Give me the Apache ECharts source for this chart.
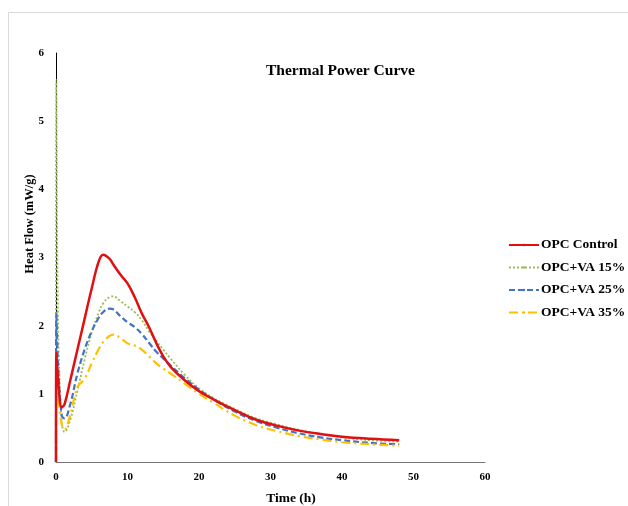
<!DOCTYPE html>
<html>
<head>
<meta charset="utf-8">
<script src="https://cdn.jsdelivr.net/npm/echarts@6/dist/echarts.min.js"></script>
<style>
  html, body { margin: 0; padding: 0; background: #fff; }
  #chart { width: 628px; height: 506px; }
</style>
</head>
<body>
<div id="chart"></div>
<script>
// time in hours, shared by all series
var timeHours = [0, 0.05, 0.3, 0.8, 1.2, 2, 3, 4, 5, 6, 6.6, 7.5, 8, 9, 10, 11, 12, 13, 14, 15, 16, 18, 20, 22, 25, 28, 31, 34, 37, 40, 44, 48];
var opcControl = [0, 1.6, 1.2, 0.8, 0.85, 1.2, 1.65, 2.1, 2.55, 2.95, 3.04, 2.98, 2.9, 2.75, 2.62, 2.42, 2.18, 1.98, 1.75, 1.55, 1.4, 1.2, 1.04, 0.92, 0.76, 0.62, 0.53, 0.46, 0.41, 0.37, 0.34, 0.32];
var va15 = [0, 5.6, 2.0, 0.6, 0.44, 0.62, 1.05, 1.5, 1.9, 2.2, 2.33, 2.42, 2.43, 2.36, 2.28, 2.2, 2.08, 1.92, 1.78, 1.65, 1.52, 1.28, 1.08, 0.94, 0.78, 0.64, 0.55, 0.47, 0.41, 0.36, 0.32, 0.3];
var va25 = [0, 2.2, 1.4, 0.68, 0.64, 0.85, 1.3, 1.65, 1.92, 2.12, 2.2, 2.25, 2.24, 2.14, 2.05, 1.98, 1.88, 1.75, 1.62, 1.52, 1.42, 1.23, 1.06, 0.92, 0.74, 0.6, 0.5, 0.42, 0.36, 0.32, 0.28, 0.26];
var va35 = [0, 1.3, 1.0, 0.55, 0.48, 0.7, 1.1, 1.22, 1.45, 1.66, 1.76, 1.85, 1.87, 1.82, 1.74, 1.71, 1.65, 1.55, 1.45, 1.37, 1.3, 1.15, 1.0, 0.87, 0.68, 0.54, 0.45, 0.38, 0.33, 0.29, 0.26, 0.24];
var seriesNames = ["OPC Control", "OPC+VA 15%", "OPC+VA 25%", "OPC+VA 35%"];

function pairs(vals) {
  var out = [];
  for (var i = 0; i < timeHours.length; i++) {
    out.push([timeHours[i], vals[i]]);
  }
  return out;
}

var serif = "'Liberation Serif', 'DejaVu Serif', serif";
var chart = echarts.init(document.getElementById("chart"));

chart.setOption({
  animation: false,
  graphic: [
    {
      type: "rect",
      shape: { x: 8.5, y: 12.5, width: 640, height: 520 },
      style: { fill: "none", stroke: "#d9d9d9", lineWidth: 1 }
    },
    {
      // y axis name, sits above the axis middle in the original
      type: "text",
      x: 30,
      y: 224,
      rotation: Math.PI / 2,
      style: {
        text: "Heat Flow (mW/g)",
        fontFamily: serif,
        fontWeight: "bold",
        fontSize: 12.5,
        fill: "#000",
        align: "center",
        verticalAlign: "middle"
      }
    }
  ],
  title: {
    text: "Thermal Power Curve",
    left: 261,
    top: 58,
    textStyle: { fontFamily: serif, fontWeight: "bold", fontSize: 15.5, color: "#000" }
  },
  legend: {
    orient: "vertical",
    left: 503,
    top: 233,
    itemGap: 8.5,
    itemWidth: 30,
    itemHeight: 3,
    data: seriesNames,
    textStyle: { fontFamily: serif, fontWeight: "bold", fontSize: 13.5, color: "#000", padding: [0, 0, 0, -3] }
  },
  grid: { left: 56, right: 143, top: 53, bottom: 44, outerBoundsMode: "none" },
  xAxis: {
    type: "value",
    min: 0,
    max: 60,
    interval: 10,
    name: "Time (h)",
    nameLocation: "middle",
    nameGap: 30,
    nameTextStyle: { fontFamily: serif, fontWeight: "bold", fontSize: 13.5, color: "#000", padding: [0, 0, 0, 41] },
    axisLine: { lineStyle: { color: "#777", width: 1 } },
    axisTick: { show: false },
    splitLine: { show: false },
    axisLabel: { fontFamily: serif, fontWeight: "bold", fontSize: 11, color: "#000", margin: 10 }
  },
  yAxis: {
    type: "value",
    min: 0,
    max: 6,
    interval: 1,
    axisLine: { show: true, lineStyle: { color: "#000", width: 1 } },
    axisTick: { show: false },
    splitLine: { show: false },
    axisLabel: { fontFamily: serif, fontWeight: "bold", fontSize: 11, color: "#000", margin: 12 }
  },
  series: [
    {
      name: seriesNames[0],
      type: "line",
      data: pairs(opcControl),
      symbol: "none",
      smooth: 0.4,
      z: 5,
      itemStyle: { color: "#E01010" },
      lineStyle: { color: "#E01010", width: 2.5 }
    },
    {
      name: seriesNames[1],
      type: "line",
      data: pairs(va15),
      symbol: "none",
      smooth: 0.4,
      itemStyle: { color: "#9BBB59" },
      lineStyle: { color: "#9BBB59", width: 1.8, type: [2, 2] }
    },
    {
      name: seriesNames[2],
      type: "line",
      data: pairs(va25),
      symbol: "none",
      smooth: 0.4,
      itemStyle: { color: "#4472C4" },
      lineStyle: { color: "#4472C4", width: 2.2, type: [6, 3] }
    },
    {
      name: seriesNames[3],
      type: "line",
      data: pairs(va35),
      symbol: "none",
      smooth: 0.4,
      itemStyle: { color: "#FFC000" },
      lineStyle: { color: "#FFC000", width: 2.2, type: [9, 4, 2, 4] }
    }
  ]
});
</script>
</body>
</html>
